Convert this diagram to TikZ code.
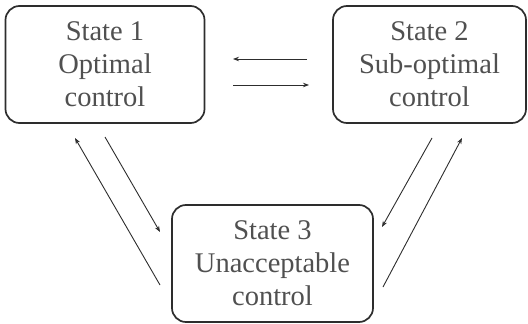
\documentclass[tikz,border=0pt]{standalone}
\usepackage{fontspec}
\setmainfont{Liberation Serif}
\usetikzlibrary{arrows.meta}
\definecolor{boxline}{RGB}{45,45,45}
\definecolor{txt}{RGB}{80,80,80}
\begin{document}
\begin{tikzpicture}[x=1pt,y=-1pt,
  statebox/.style={draw=boxline, line width=1.7pt, rounded corners=14pt,
    minimum height=117pt, align=center, text=txt, inner sep=0pt,
    font=\fontsize{28.5}{33}\selectfont},
  trans/.style={draw=boxline, line width=0.9pt, -{Stealth[length=6pt,width=4.5pt]}}]
\useasboundingbox (0,0) rectangle (528,324);
% the three control states
\node[statebox, minimum width=199pt] (s1) at (105,64.5) {State 1\\Optimal\\control};
\node[statebox, minimum width=193pt] (s2) at (429.5,64.5) {State 2\\Sub-optimal\\control};
\node[statebox, minimum width=201pt] (s3) at (272.5,263.5) {State 3\\Unacceptable\\control};
% end points of the transition arrows
\coordinate (h1a) at (307,59);  \coordinate (h1b) at (233,59);
\coordinate (h2a) at (233,85);  \coordinate (h2b) at (309,85);
\coordinate (l1a) at (160,285); \coordinate (l1b) at (75,138);
\coordinate (l2a) at (105,137); \coordinate (l2b) at (160,232);
\coordinate (r1a) at (432,138); \coordinate (r1b) at (382,227);
\coordinate (r2a) at (383,287); \coordinate (r2b) at (462,138);
% transitions between the states
\draw[trans] (h1a) -- (h1b);
\draw[trans] (h2a) -- (h2b);
\draw[trans] (l1a) -- (l1b);
\draw[trans] (l2a) -- (l2b);
\draw[trans] (r1a) -- (r1b);
\draw[trans] (r2a) -- (r2b);
\end{tikzpicture}
\end{document}
